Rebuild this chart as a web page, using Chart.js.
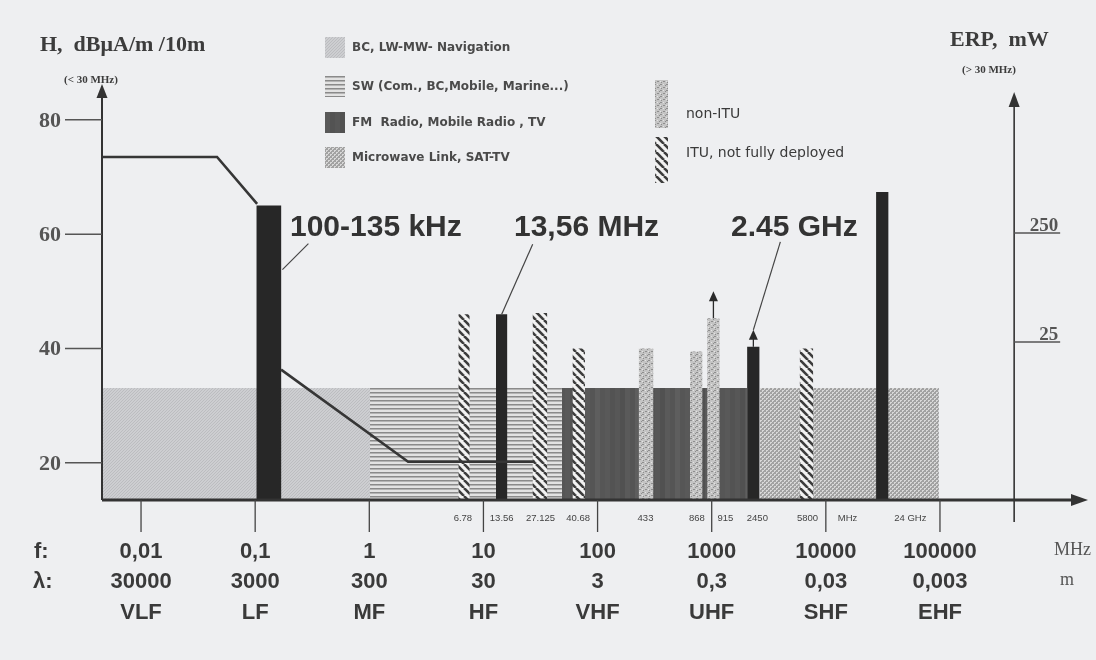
<!DOCTYPE html>
<html>
<head>
<meta charset="utf-8">
<script src="https://cdn.jsdelivr.net/npm/chart.js@4.4.1/dist/chart.umd.min.js"></script>
<style>
  html, body { margin: 0; padding: 0; background: #eeeff1; }
  canvas { display: block; }
</style>
</head>
<body>
<canvas id="myChart" width="1096" height="660"></canvas>
<script>
var ctx = document.getElementById('myChart').getContext('2d');

// x axis runs in decades: value = log10(f / MHz)
const decades = [-2, -1, 0, 1, 2, 3, 4, 5];
const freqLabels = ['0,01', '0,1', '1', '10', '100', '1000', '10000', '100000'];
const waveLabels = ['30000', '3000', '300', '30', '3', '0,3', '0,03', '0,003'];
const bandNames = ['VLF', 'LF', 'MF', 'HF', 'VHF', 'UHF', 'SHF', 'EHF'];

// left axis H (dBuA/m at 10 m), right axis ERP (mW)
const hTicks = [20, 40, 60, 80];
const erpTicks = [25, 250];

// broad service areas
const serviceNames = ['BC, LW-MW- Navigation', 'SW (Com., BC,Mobile, Marine...)', 'FM  Radio, Mobile Radio , TV', 'Microwave Link, SAT-TV'];
const serviceFrom = [-2.342, 0.006, 1.688, 3.423];
const serviceTo = [0.006, 1.688, 3.309, 4.991];
const serviceLevel = [33.1, 33.1, 33.1, 33.1];

// SRD / RFID bands
const barNames = ['100-135 kHz', '6.78 MHz', '13.56 MHz', '27.125 MHz', '40.68 MHz', '433 MHz', '868 MHz', '915 MHz', '2450 MHz', '5800 MHz', '24 GHz'];
const barFrom = [-0.99, 0.78, 1.11, 1.43, 1.78, 2.36, 2.81, 2.96, 3.31, 3.77, 4.44];
const barTo = [-0.77, 0.88, 1.21, 1.56, 1.89, 2.49, 2.92, 3.07, 3.42, 3.89, 4.55];
const barLevel = [65, 46, 46, 46.2, 40, 40, 39.5, 45.3, 40.3, 40, 67.4];
const barKind = ['itu', 'partial', 'itu', 'partial', 'partial', 'nonItu', 'nonItu', 'nonItu', 'itu', 'partial', 'itu'];
const barExceeds = [false, false, false, false, false, false, false, true, true, false, false];

// small labels under the axis
const ismLabels = ['6.78', '13.56', '27.125', '40.68', '433', '868', '915', '2450', '5800', 'MHz', '24 GHz'];
const ismAt = [0.82, 1.16, 1.50, 1.83, 2.42, 2.87, 3.12, 3.40, 3.84, 4.19, 4.74];

// limit curve (null = break at the LF bar)
const limitAt = [-2.342, -1.334, -0.983, -0.88, -0.773, 0.34, 1.45];
const limitH = [73.5, 73.5, 65.3, null, 36.3, 20.2, 20.2];

// ---------- fills ----------
function makePattern(w, h, draw) {
    var c = document.createElement('canvas');
    c.width = w; c.height = h;
    draw(c.getContext('2d'), w, h);
    return ctx.createPattern(c, 'repeat');
}

var bcFill = makePattern(3, 3, function (g) {
    g.fillStyle = '#cdced1'; g.fillRect(0, 0, 3, 3);
    g.fillStyle = '#bcbdc0'; g.fillRect(0, 0, 1, 1); g.fillRect(2, 1, 1, 1); g.fillRect(1, 2, 1, 1);
});
var swFill = makePattern(4, 4, function (g) {
    g.fillStyle = '#e2e2e2'; g.fillRect(0, 0, 4, 4);
    g.fillStyle = '#8a8a8a'; g.fillRect(0, 0, 4, 1);
    g.fillStyle = '#b4b4b4'; g.fillRect(0, 1, 4, 1);
});
var fmFill = makePattern(40, 2, function (g) {
    var cols = ['#565656', '#595959', '#535353', '#575757', '#515151', '#5a5a5a', '#555555', '#5e5e5e'];
    for (var i = 0; i < 8; i++) { g.fillStyle = cols[i]; g.fillRect(i * 5, 0, 5, 2); }
});
var mwFill = makePattern(4, 4, function (g) {
    g.fillStyle = '#a2a2a2'; g.fillRect(0, 0, 4, 4);
    g.fillStyle = '#d8d8d8';
    g.fillRect(0, 0, 2, 1); g.fillRect(0, 1, 1, 1);
    g.fillRect(2, 2, 2, 1); g.fillRect(2, 3, 1, 1);
});
var hatchFill = makePattern(8, 8, function (g) {
    g.fillStyle = '#f2f2f2'; g.fillRect(0, 0, 8, 8);
    g.strokeStyle = '#3c3c3c'; g.lineWidth = 2.6;
    [-8, 0, 8].forEach(function (o) {
        g.beginPath(); g.moveTo(o, 0); g.lineTo(o + 8, 8); g.stroke();
    });
});
var nonItuFill = makePattern(6, 6, function (g) {
    g.fillStyle = '#c4c4c4'; g.fillRect(0, 0, 6, 6);
    g.fillStyle = '#8e8e8e';
    g.fillRect(0, 0, 2, 1); g.fillRect(3, 3, 2, 1); g.fillRect(5, 1, 1, 1); g.fillRect(1, 4, 1, 1);
    g.fillStyle = '#e4e4e4'; g.fillRect(3, 0, 1, 1); g.fillRect(0, 3, 1, 1);
});

var serviceFills = [bcFill, swFill, fmFill, mwFill];
var kindFill = { itu: '#272727', partial: hatchFill, nonItu: nonItuFill };

// ---------- datasets ----------
var datasets = [];
serviceNames.forEach(function (name, i) {
    datasets.push({
        label: name,
        data: [{ x: serviceFrom[i], y: serviceLevel[i] }, { x: serviceTo[i], y: serviceLevel[i] }],
        fill: 'start',
        backgroundColor: serviceFills[i],
        borderWidth: 0,
        pointRadius: 0,
        order: 3
    });
});
barNames.forEach(function (name, i) {
    datasets.push({
        label: name,
        data: [{ x: barFrom[i], y: barLevel[i] }, { x: barTo[i], y: barLevel[i] }],
        fill: 'start',
        backgroundColor: kindFill[barKind[i]],
        borderWidth: 0,
        pointRadius: 0,
        order: 2
    });
});
datasets.push({
    label: 'limit',
    data: limitAt.map(function (v, i) { return { x: v, y: limitH[i] }; }),
    fill: false,
    borderColor: '#363636',
    borderWidth: 2.6,
    pointRadius: 0,
    spanGaps: false,
    order: 1
});

// ---------- axes, labels, legend ----------
function arrowUp(c, cx, tipY, w, h) {
    c.beginPath(); c.moveTo(cx, tipY); c.lineTo(cx - w / 2, tipY + h); c.lineTo(cx + w / 2, tipY + h); c.closePath(); c.fill();
}
function line(c, x1, y1, x2, y2) {
    c.beginPath(); c.moveTo(x1, y1); c.lineTo(x2, y2); c.stroke();
}

var drawing = {
    id: 'drawing',
    afterDatasetsDraw: function (chart) {
        var c = chart.ctx, x = chart.scales.x, y = chart.scales.y, y2 = chart.scales.y2, a = chart.chartArea;
        var base = a.bottom;
        c.save();
        c.fillStyle = '#333'; c.strokeStyle = '#333';

        // left axis
        c.lineWidth = 2;
        line(c, a.left, base, a.left, a.top + 12);
        arrowUp(c, a.left, a.top - 1, 11, 14);
        c.lineWidth = 1.5; c.strokeStyle = '#555';
        c.font = 'bold 22px "Liberation Serif"'; c.fillStyle = '#555';
        c.textAlign = 'right'; c.textBaseline = 'middle';
        hTicks.forEach(function (t) {
            var py = y.getPixelForValue(t);
            line(c, a.left - 37, py, a.left, py);
            c.fillText(String(t), a.left - 41, py + 1);
        });

        // bottom axis
        c.strokeStyle = '#333'; c.fillStyle = '#333'; c.lineWidth = 3;
        line(c, a.left, base, a.right - 14, base);
        c.beginPath(); c.moveTo(a.right, base); c.lineTo(a.right - 17, base - 6); c.lineTo(a.right - 17, base + 6); c.closePath(); c.fill();

        // decade ticks
        c.lineWidth = 1.3; c.strokeStyle = '#444';
        decades.forEach(function (d) {
            var px = x.getPixelForValue(d);
            line(c, px, base, px, base + 32);
        });

        // right ERP axis
        var rx = x.getPixelForValue(5.65);
        c.lineWidth = 1.6; c.strokeStyle = '#333'; c.fillStyle = '#333';
        line(c, rx, base + 22, rx, a.top + 20);
        arrowUp(c, rx, a.top + 7, 11, 15);
        c.font = 'bold 19px "Liberation Serif"'; c.fillStyle = '#555'; c.strokeStyle = '#555';
        c.textAlign = 'right'; c.textBaseline = 'alphabetic';
        erpTicks.forEach(function (t) {
            var py = y2.getPixelForValue(t);
            line(c, rx, py, rx + 46, py);
            c.fillText(String(t), rx + 44, py - 2);
        });

        // axis titles
        c.fillStyle = '#3c3c3c'; c.textAlign = 'left';
        c.font = 'bold 22px "Liberation Serif"';
        c.fillText('H,  dB\u03bcA/m /10m', 40, 51);
        c.fillText('ERP,  mW', 950, 46);
        c.font = 'bold 11px "Liberation Serif"';
        c.fillText('(< 30 MHz)', 64, 83);
        c.fillText('(> 30 MHz)', 962, 73);

        // bottom rows
        c.fillStyle = '#3a3a3a'; c.textBaseline = 'middle';
        c.font = 'bold 22px "Liberation Sans"';
        c.textAlign = 'left';
        c.fillText('f:', 34, 552);
        c.fillText('\u03bb:', 33, 582);
        c.textAlign = 'center';
        decades.forEach(function (d, i) {
            var px = x.getPixelForValue(d);
            c.fillText(freqLabels[i], px, 552);
            c.fillText(waveLabels[i], px, 582);
            c.fillText(bandNames[i], px, 613);
        });
        c.font = '18px "Liberation Serif"'; c.fillStyle = '#555'; c.textAlign = 'left';
        c.fillText('MHz', 1054, 550);
        c.fillText('m', 1060, 580);

        // small band labels
        c.font = '9.5px "Liberation Sans"'; c.fillStyle = '#444'; c.textAlign = 'center';
        ismLabels.forEach(function (s, i) {
            c.fillText(s, x.getPixelForValue(ismAt[i]), base + 18);
        });

        // exceed arrows above bars
        c.fillStyle = '#2a2a2a'; c.strokeStyle = '#2a2a2a'; c.lineWidth = 1.3;
        var tips = [];
        barNames.forEach(function (n, i) {
            var cx = x.getPixelForValue((barFrom[i] + barTo[i]) / 2);
            var top = y.getPixelForValue(barLevel[i]);
            tips[i] = { x: cx, y: top };
            if (barExceeds[i]) {
                var len = barLevel[i] > 44 ? 27 : 17;
                line(c, cx, top, cx, top - len + 8);
                arrowUp(c, cx, top - len, 9, 10);
                tips[i] = { x: cx, y: top - len };
            }
        });

        // callouts
        c.strokeStyle = '#444'; c.lineWidth = 1.2;
        var lf = { x: x.getPixelForValue(barTo[0]), y: y.getPixelForValue(barLevel[0]) };
        line(c, lf.x + 1, lf.y + 64, lf.x + 27, lf.y + 38);
        line(c, tips[2].x, tips[2].y, tips[2].x + 31, tips[2].y - 70);
        line(c, tips[8].x, tips[8].y, tips[8].x + 27, tips[8].y - 88);
        c.fillStyle = '#333'; c.font = 'bold 30px "Liberation Sans"'; c.textAlign = 'left'; c.textBaseline = 'alphabetic';
        c.fillText('100-135 kHz', 290, 236);
        c.fillText('13,56 MHz', 514, 236);
        c.fillText('2.45 GHz', 731, 236);

        // legend, left block
        var ly = [37, 76, 112, 147];
        c.font = 'bold 12px "DejaVu Sans"'; c.textBaseline = 'middle';
        serviceNames.forEach(function (s, i) {
            c.fillStyle = serviceFills[i];
            c.fillRect(325, ly[i], 20, 21);
            c.fillStyle = '#4a4a4a';
            c.fillText(s, 352, ly[i] + 11);
        });
        // legend, right block
        c.fillStyle = nonItuFill; c.fillRect(655, 80, 13, 48);
        c.fillStyle = hatchFill; c.fillRect(655, 137, 13, 46);
        c.fillStyle = '#3a3a3a'; c.font = '14px "DejaVu Sans"';
        c.fillText('non-ITU', 686, 114);
        c.fillText('ITU, not fully deployed', 686, 153);

        c.restore();
    }
};

var chart = new Chart(ctx, {
    type: 'line',
    data: { datasets: datasets },
    options: {
        responsive: false,
        animation: false,
        devicePixelRatio: 1,
        layout: { padding: { left: 102, right: 8, top: 85, bottom: 160 } },
        scales: {
            x: { type: 'linear', min: -2.342, max: 6.297, display: false },
            y: { type: 'linear', min: 13.5, max: 86.1, display: false },
            y2: { type: 'logarithmic', min: 0.887, max: 5700, display: false, position: 'right' }
        },
        plugins: {
            legend: { display: false },
            tooltip: { enabled: false }
        }
    },
    plugins: [drawing]
});
</script>
</body>
</html>
